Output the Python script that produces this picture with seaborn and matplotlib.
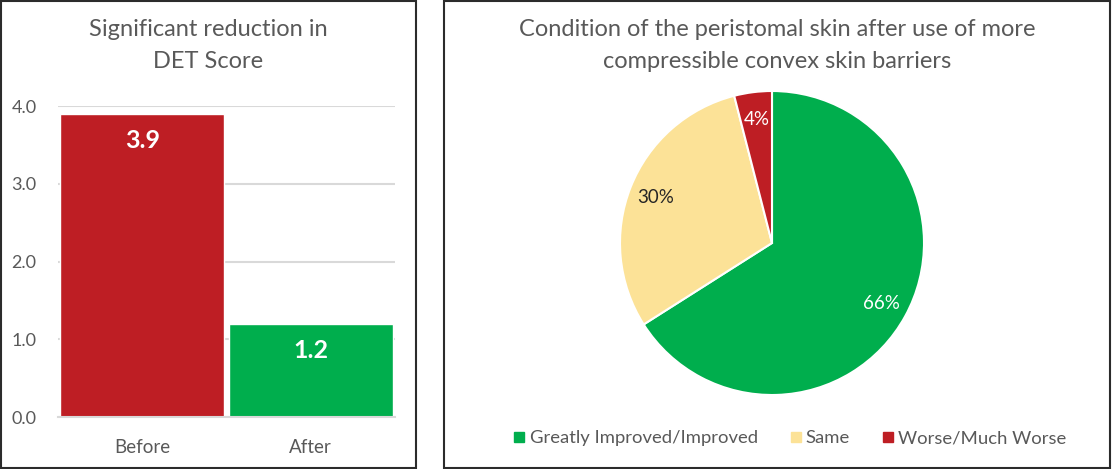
import numpy as np
import pandas as pd
import seaborn as sns
import matplotlib.pyplot as plt
from matplotlib.patches import Rectangle
from matplotlib.lines import Line2D

# === data ===
bar_categories = ["Before", "After"]
bar_values = [3.9, 1.2]
bar_colors = ["#BE1E24", "#00AE4D"]
bar_ticks = [0.0, 1.0, 2.0, 3.0, 4.0]

pie_labels = ["Greatly Improved/Improved", "Same", "Worse/Much Worse"]
pie_values = [66, 30, 4]
pie_colors = ["#00AE4D", "#FCE297", "#BE1E24"]
pie_text_colors = ["white", "#262626", "white"]

sns.set_theme(style="white")
plt.rcParams['font.family'] = ['Lato', 'DejaVu Sans']
grey = "#595959"

W, H = 1112, 469
fig = plt.figure(figsize=(W / 100, H / 100), dpi=100)

def fig_box(x0, y0, x1, y1):
    # pixel box -> figure coords
    return [x0 / W, 1 - y1 / H, (x1 - x0) / W, (y1 - y0) / H]

# panel borders
for x0, x1 in [(1, 416), (444, 1110)]:
    fig.patches.append(Rectangle((x0 / W, 1.5 / H), (x1 - x0) / W, (H - 3) / H,
                                 transform=fig.transFigure, fill=False,
                                 edgecolor="#2b2b2b", linewidth=1.5))

# === bar chart ===
ax1 = fig.add_axes(fig_box(58, 106, 395, 417))
df = pd.DataFrame({"cat": bar_categories, "val": bar_values})
sns.barplot(data=df, x="cat", y="val", hue="cat", palette=bar_colors,
            width=0.975, legend=False, ax=ax1, saturation=1)
ax1.set_xlim(-0.5, 1.5)
ax1.set_ylim(0, 4)
ax1.set_yticks(bar_ticks)
ax1.set_yticklabels([f"{t:.1f}" for t in bar_ticks], fontsize=13, color=grey)
ax1.tick_params(axis="x", labelsize=13.5, colors=grey, pad=10)
ax1.tick_params(axis="y", pad=9.5)
ax1.set_xlabel("")
ax1.set_ylabel("")
ax1.yaxis.grid(True, color="#D9D9D9", linewidth=1.5)
ax1.set_axisbelow(True)
for s in ["top", "right", "left"]:
    ax1.spines[s].set_visible(False)
ax1.spines["bottom"].set_color("#D9D9D9")
ax1.spines["bottom"].set_linewidth(1.5)
for i, v in enumerate(bar_values):
    ax1.text(i, v - 0.35, f"{v:.1f}", ha="center", va="center", color="white",
             fontsize=18, fontweight="bold")
fig.text(208 / W, 1 - 29 / H, "Significant reduction in", ha="center", va="center",
         fontsize=17, color=grey)
fig.text(208 / W, 1 - 62 / H, "DET Score", ha="center", va="center",
         fontsize=17, color=grey)

# === pie chart ===
ax2 = fig.add_axes(fig_box(620, 91, 924, 395))
wedges, texts, autotexts = ax2.pie(
    pie_values, colors=pie_colors, startangle=90, counterclock=False,
    autopct=lambda p: f"{p:.0f}%", pctdistance=0.82,
    wedgeprops=dict(edgecolor="white", linewidth=1.5),
    textprops=dict(fontsize=13.5))
for t, c in zip(autotexts, pie_text_colors):
    t.set_color(c)
ax2.set_aspect("auto")
ax2.set_xlim(-1, 1)
ax2.set_ylim(-1, 1)
fig.text(777 / W, 1 - 29 / H, "Condition of the peristomal skin after use of more",
         ha="center", va="center", fontsize=17, color=grey)
fig.text(777 / W, 1 - 62 / H, "compressible convex skin barriers",
         ha="center", va="center", fontsize=17, color=grey)

handles = [Line2D([], [], marker="s", linestyle="", markersize=7,
                  markerfacecolor=c, markeredgecolor=c) for c in pie_colors]
fig.legend(handles, pie_labels, loc="center", bbox_to_anchor=(790 / W, 1 - 438 / H),
           ncol=3, frameon=False, fontsize=13.3, labelcolor=grey,
           handletextpad=0.25, columnspacing=1.75, handlelength=0.6)

fig.savefig("out.png", dpi=100)
